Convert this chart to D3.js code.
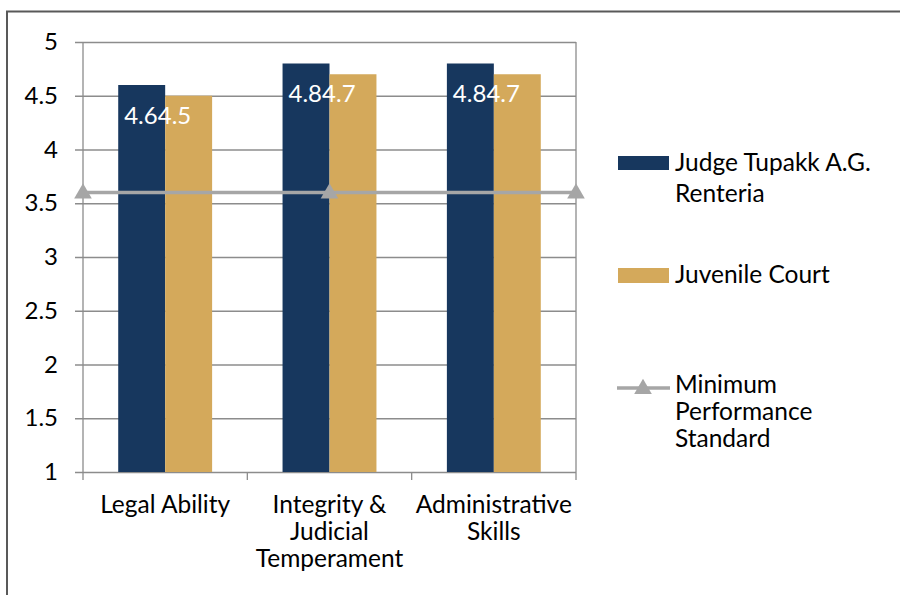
<!DOCTYPE html>
<html>
<head>
<meta charset="utf-8">
<script src="https://cdn.jsdelivr.net/npm/d3@7"></script>
<style>
  html, body { margin: 0; padding: 0; background: #fff; }
  svg { display: block; font-family: Lato, "Open Sans", sans-serif; }
</style>
</head>
<body>
<svg id="chart" width="900" height="595"></svg>
<script>
// Ratings by category
const categories = ["Legal Ability", "Integrity & Judicial Temperament", "Administrative Skills"];
const categoryLines = [["Legal Ability"], ["Integrity &", "Judicial", "Temperament"], ["Administrative", "Skills"]];
const seriesNames = ["Judge Tupakk A.G. Renteria", "Juvenile Court"];
const judgeValues = [4.6, 4.8, 4.8];
const courtValues = [4.5, 4.7, 4.7];
const minimumStandard = [3.6, 3.6, 3.6];
const yTicks = [1, 1.5, 2, 2.5, 3, 3.5, 4, 4.5, 5];
const legendLabels = [["Judge Tupakk A.G.", "Renteria"], ["Juvenile Court"], ["Minimum", "Performance", "Standard"]];

const colors = { judge: "#17375E", court: "#D4A95B", line: "#A6A6A6", grid: "#8C8C8C" };

const svg = d3.select("#chart");

// Outer frame
svg.append("path")
  .attr("d", "M7,600 L7,11.5 L905,11.5")
  .attr("fill", "none").attr("stroke", "#595959").attr("stroke-width", 2);

const plotLeft = 83, plotRight = 576, plotTop = 42, plotBottom = 472;

const x = d3.scaleBand().domain(categories).range([plotLeft, plotRight]).paddingInner(0).paddingOuter(0);
const x1 = d3.scaleBand().domain(seriesNames).range([0, x.bandwidth()]).paddingInner(0).paddingOuter(0.75);
const xp = d3.scalePoint().domain(categories).range([plotLeft, plotRight]).padding(0);
const y = d3.scaleLinear().domain([1, 5]).range([plotBottom, plotTop]);

// Horizontal gridlines and y tick labels
const yAxis = d3.axisLeft(y).tickValues(yTicks).tickSize(-(plotRight - 75)).tickPadding(17)
  .tickFormat(d3.format("~g"));
const gy = svg.append("g").attr("transform", "translate(75,0)").call(yAxis);
gy.select(".domain").remove();
gy.selectAll(".tick line").attr("stroke", colors.grid).attr("stroke-width", 1.3);
gy.selectAll(".tick text").attr("fill", "#000").attr("font-size", 24)
  .attr("font-family", "Lato, 'Open Sans', sans-serif");

// Plot-area sides
svg.append("line").attr("x1", plotLeft).attr("x2", plotLeft).attr("y1", plotTop).attr("y2", plotBottom + 8)
  .attr("stroke", colors.grid).attr("stroke-width", 1.3);
svg.append("line").attr("x1", plotRight).attr("x2", plotRight).attr("y1", plotTop).attr("y2", plotBottom + 8)
  .attr("stroke", colors.grid).attr("stroke-width", 1.3);

// Category tick marks
svg.append("g").selectAll("line")
  .data(categories.slice(1))
  .join("line")
  .attr("x1", d => x(d)).attr("x2", d => x(d))
  .attr("y1", plotBottom).attr("y2", plotBottom + 8)
  .attr("stroke", colors.grid).attr("stroke-width", 1.3);

// Bars
const groups = svg.append("g").selectAll("g")
  .data(categories.map((c, i) => ({ c, vals: [judgeValues[i], courtValues[i]] })))
  .join("g")
  .attr("transform", d => `translate(${x(d.c)},0)`);

groups.selectAll("rect")
  .data(d => d.vals.map((v, j) => ({ v, s: seriesNames[j] })))
  .join("rect")
  .attr("x", d => x1(d.s))
  .attr("width", x1.bandwidth())
  .attr("y", d => y(d.v))
  .attr("height", d => y(1) - y(d.v))
  .attr("fill", (d, j) => j === 0 ? colors.judge : colors.court);

// Data labels, both series written in one run from the first bar
groups.append("text")
  .attr("x", x1(seriesNames[0]) + 6)
  .attr("y", d => y(d.vals[0]) + 38.5)
  .attr("fill", "#fff")
  .attr("font-size", 24)
  .selectAll("tspan")
  .data(d => d.vals)
  .join("tspan")
  .text(d => d3.format(".1f")(d));

// Minimum performance standard line
const lineGen = d3.line().x((d, i) => xp(categories[i])).y(d => y(d));
svg.append("path")
  .datum(minimumStandard)
  .attr("d", lineGen)
  .attr("fill", "none")
  .attr("stroke", colors.line)
  .attr("stroke-width", 3.5);

const tri = d3.symbol().type(d3.symbolTriangle).size(135);
svg.append("g").selectAll("path")
  .data(minimumStandard)
  .join("path")
  .attr("d", tri)
  .attr("transform", (d, i) => `translate(${xp(categories[i])},${y(d) + 1})`)
  .attr("fill", colors.line);

// Category labels
const xl = svg.append("g").selectAll("text")
  .data(categories)
  .join("text")
  .attr("text-anchor", "middle")
  .attr("font-size", 24.5)
  .attr("fill", "#000")
  .attr("x", d => x(d) + x.bandwidth() / 2)
  .attr("y", 513);
xl.selectAll("tspan")
  .data((d, i) => categoryLines[i])
  .join("tspan")
  .attr("x", function () { return d3.select(this.parentNode).attr("x"); })
  .attr("dy", (d, i) => i === 0 ? 0 : 27)
  .text(d => d);

// Legend
const legend = svg.append("g");
legend.append("rect").attr("x", 618).attr("y", 156).attr("width", 51).attr("height", 14).attr("fill", colors.judge);
legend.append("rect").attr("x", 618).attr("y", 268).attr("width", 51).attr("height", 15).attr("fill", colors.court);
legend.append("line").attr("x1", 617).attr("x2", 670).attr("y1", 388).attr("y2", 388)
  .attr("stroke", colors.line).attr("stroke-width", 3.5);
legend.append("path").attr("d", tri).attr("transform", "translate(643,389)").attr("fill", colors.line);

const legendY = [171, 283, 393];
const legendGap = [31, 0, 27];
legendLabels.forEach((lines, k) => {
  const t = legend.append("text").attr("x", 675).attr("y", legendY[k])
    .attr("font-size", 24.5).attr("fill", "#000");
  t.selectAll("tspan").data(lines).join("tspan")
    .attr("x", 675).attr("dy", (d, i) => i === 0 ? 0 : legendGap[k])
    .text(d => d);
});
</script>
</body>
</html>
